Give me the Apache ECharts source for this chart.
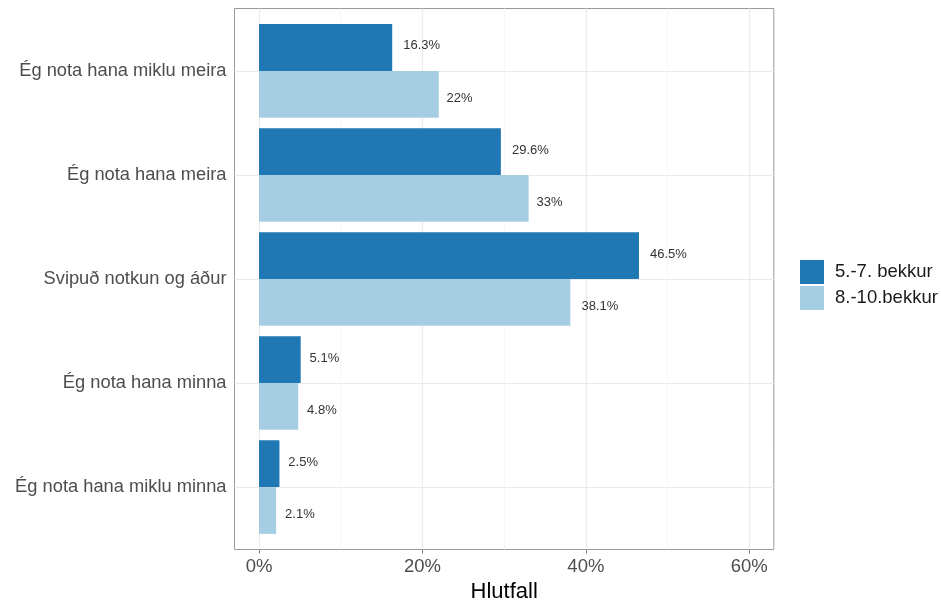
<!DOCTYPE html>
<html>
<head>
<meta charset="utf-8">
<script src="https://cdn.jsdelivr.net/npm/echarts@6/dist/echarts.min.js"></script>
<style>html,body{margin:0;padding:0;background:#fff}#c{width:941px;height:601px}</style>
</head>
<body>
<div id="c"></div>
<script>
const categories = ['Ég nota hana miklu meira', 'Ég nota hana meira', 'Svipuð notkun og áður', 'Ég nota hana minna', 'Ég nota hana miklu minna'];
const seriesNames = ['5.-7. bekkur', '8.-10.bekkur'];
const values57 = [16.3, 29.6, 46.5, 5.1, 2.5];
const values810 = [22, 33, 38.1, 4.8, 2.1];
const xTicks = [0, 20, 40, 60];
const xMinor = [10, 30, 50];
const yTicks = [1, 2, 3, 4, 5];

const FONT = '"Liberation Sans", Arial, sans-serif';
const LABEL_FONT = '13px ' + FONT;
const chart = echarts.init(document.getElementById('c'), null, {renderer: 'canvas'});

const measureCtx = document.createElement('canvas').getContext('2d');
measureCtx.font = LABEL_FONT;

function fmtPct(v) { return String(v) + '%'; }

function makeRender(startOffset, labelOffset) {
  return function (params, api) {
    const v = api.value(0), c = api.value(1);
    const a = api.coord([0, c + startOffset]);
    const b = api.coord([v, c + startOffset + 0.45]);
    const t = api.coord([v, c + labelOffset]);
    const y0 = Math.min(a[1], b[1]), h = Math.abs(b[1] - a[1]);
    const txt = fmtPct(v);
    const w = measureCtx.measureText(txt).width;
    return {
      type: 'group',
      children: [
        {type: 'rect', shape: {x: a[0], y: y0, width: b[0] - a[0], height: h}, style: api.style()},
        {type: 'text', z2: 10, style: {x: b[0] + 0.3 * w, y: t[1] + 1, text: txt, fill: '#333', font: LABEL_FONT, textAlign: 'left', textVerticalAlign: 'middle'}}
      ]
    };
  };
}

const d57 = values57.map((v, i) => [v, i + 1]);
const d810 = values810.map((v, i) => [v, i + 1]);

const gridLines = xMinor.map(v => ({xAxis: v, lineStyle: {color: '#F2F2F2', width: 0.8, type: 'solid'}}))
  .concat(xTicks.map(v => ({xAxis: v, lineStyle: {color: '#EBEBEB', width: 1.2, type: 'solid'}})))
  .concat(yTicks.map(v => ({yAxis: v, lineStyle: {color: '#EBEBEB', width: 1.2, type: 'solid'}})));

chart.setOption({
  animation: false,
  grid: {left: 234.5, top: 8.5, right: 167.2, bottom: 51.5, outerBoundsMode: 'none', containLabel: false, show: true, borderColor: '#9a9a9a', borderWidth: 1, backgroundColor: '#fff', z: 0},
  xAxis: {
    type: 'value', min: -3, max: 63, minInterval: 20, maxInterval: 20,
    name: 'Hlutfall', nameLocation: 'middle', nameGap: 26,
    nameTextStyle: {fontFamily: FONT, fontSize: 22, color: '#000'},
    axisLine: {show: false},
    axisTick: {show: true, length: 4, lineStyle: {color: '#7a7a7a'}, customValues: xTicks},
    axisLabel: {customValues: xTicks, formatter: v => (v % 20 === 0 ? v + '%' : ''), fontFamily: FONT, fontSize: 18.5, color: '#4d4d4d', margin: 8},
    splitLine: {show: false}
  },
  yAxis: {
    type: 'value', min: 0.4, max: 5.6, inverse: true, minInterval: 1, maxInterval: 1,
    axisLine: {show: false},
    axisTick: {show: true, length: 4, lineStyle: {color: '#7a7a7a'}, customValues: yTicks},
    axisLabel: {customValues: yTicks, formatter: v => (Number.isInteger(v) && v >= 1 && v <= 5 ? categories[v - 1] : ''), fontFamily: FONT, fontSize: 18.3, color: '#4d4d4d', margin: 8, padding: [3, 0, 0, 0]},
    splitLine: {show: false}
  },
  legend: {
    orient: 'vertical', left: 800, top: 260, padding: 0, itemWidth: 24, itemHeight: 24, itemGap: 2, icon: 'rect',
    data: seriesNames,
    textStyle: {fontFamily: FONT, fontSize: 18.5, color: '#1a1a1a', padding: [0, 0, 0, 6]}
  },
  series: [
    {type: 'line', name: 'grid', data: [], z: 1, silent: true,
      markLine: {z: 1, silent: true, symbol: ['none', 'none'], label: {show: false}, animation: false, data: gridLines}},
    {type: 'custom', name: seriesNames[0], data: d57, z: 5, itemStyle: {color: '#1F78B4'}, renderItem: makeRender(-0.45, -0.25), encode: {x: 0, y: 1}},
    {type: 'custom', name: seriesNames[1], data: d810, z: 5, itemStyle: {color: '#A6CEE3'}, renderItem: makeRender(0, 0.25), encode: {x: 0, y: 1}}
  ]
});
</script>
</body>
</html>
